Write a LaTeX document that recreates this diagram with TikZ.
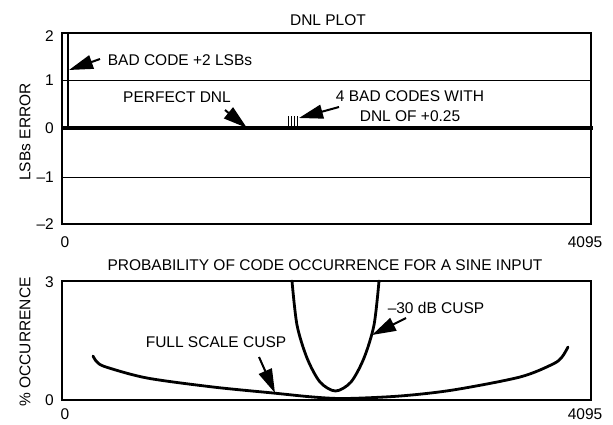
\documentclass[tikz,border=0pt]{standalone}
\usepackage{fontspec}
\setmainfont{Liberation Sans}
\usetikzlibrary{arrows.meta}
\tikzset{
  lbl/.style={font=\fontsize{15.5}{18}\selectfont, inner sep=0pt},
  ticklab/.style={lbl, anchor=east},
  frame/.style={line width=1.8pt},
  callout/.style={line width=2pt, arrows={-Triangle[length=24pt,width=14pt]}},
  cusp/.style={line width=2.8pt, line cap=round}
}
\begin{document}
\begin{tikzpicture}[x=1pt,y=-1pt]
  \useasboundingbox (0,0) rectangle (613,424);
  % DNL plot
  \node[lbl] (dnltitle) at (328,20) {DNL PLOT};
  \draw[frame] (62,33) rectangle (591,224);
  \draw[line width=0.7pt] (62,80) -- (591,80) (62,177) -- (591,177);
  \draw[line width=3.2pt] (62,128) -- (593,128);
  \draw[line width=2.8pt] (68,128) -- (68,33);
  \foreach \x in {288,291,294,297}
    \draw[line width=0.7pt] (\x,128) -- (\x,116);
  \node[ticklab] (t2) at (54,36) {2};
  \node[ticklab] (t1) at (54,80) {1};
  \node[ticklab] (t0) at (54,128) {0};
  \node[ticklab] (tm1) at (54,177) {--1};
  \node[ticklab] (tm2) at (54,224) {--2};
  \node[lbl] (x0a) at (65,242) {0};
  \node[lbl] (xenda) at (585,242) {4095};
  \node[lbl,rotate=90] (ylaba) at (25,132) {LSBs ERROR};
  \node[lbl] (badtxt) at (180,60) {BAD CODE +2 LSBs};
  \coordinate (bada) at (100,59);
  \coordinate (badb) at (69,70);
  \draw[callout] (bada) -- (badb);
  \node[lbl] (perftxt) at (177,97) {PERFECT DNL};
  \coordinate (perfa) at (225,110);
  \coordinate (perfb) at (247,128);
  \draw[callout] (perfa) -- (perfb);
  \node[lbl,align=center] (fourtxt) at (410,106) {4 BAD CODES WITH\\[2pt]DNL OF +0.25};
  \coordinate (foura) at (339,107);
  \coordinate (fourb) at (299,118);
  \draw[callout] (foura) -- (fourb);
  % probability plot
  \node[lbl] (probtitle) at (325,265) {PROBABILITY OF CODE OCCURRENCE FOR A SINE INPUT};
  \draw[frame] (62,281) rectangle (591,400);
  \node[ticklab] (p3) at (54,282) {3};
  \node[ticklab] (p0) at (54,400) {0};
  \node[lbl] (x0b) at (65,414) {0};
  \node[lbl] (xendb) at (585,414) {4095};
  \node[lbl,rotate=90] (ylabb) at (25,342) {\% OCCURRENCE};
  \draw[cusp] plot[smooth] coordinates {(93,356) (97,362) (106,367) (147,378)
    (213,387) (273,393) (313,397) (345,398.5) (400,396) (453,390) (520,377)
    (553,364) (562,357) (568,347)};
  \draw[cusp] plot[smooth] coordinates {(292,281) (297,325) (307,358) (320,382)
    (335.5,391) (351,382) (364,358) (374,325) (379,281)};
  \node[lbl] (cusptxt) at (436,308) {--30 dB CUSP};
  \coordinate (cuspa) at (406,318);
  \coordinate (cuspb) at (372,335);
  \draw[callout] (cuspa) -- (cuspb);
  \node[lbl] (fulltxt) at (216,342) {FULL SCALE CUSP};
  \coordinate (fulla) at (259,357);
  \coordinate (fullb) at (275,393);
  \draw[callout] (fulla) -- (fullb);
\end{tikzpicture}
\end{document}
